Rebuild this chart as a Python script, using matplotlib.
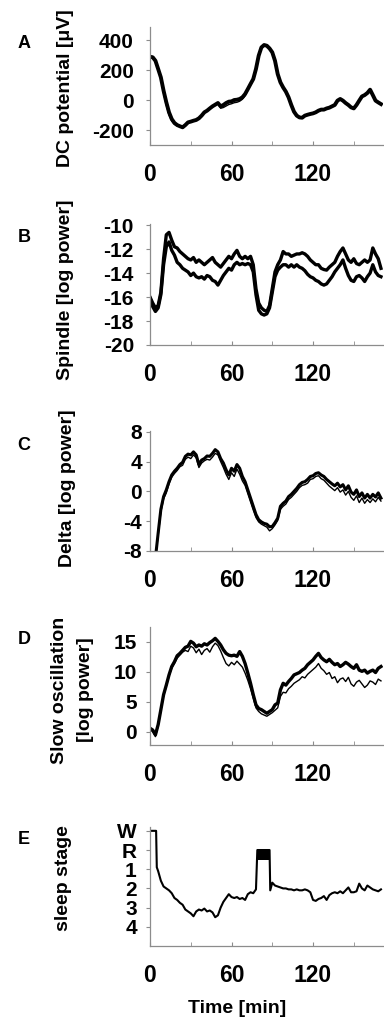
import matplotlib
matplotlib.use("Agg")
import matplotlib.pyplot as plt

plt.rcParams['font.family'] = ['Liberation Sans', 'DejaVu Sans']
plt.rcParams['font.weight'] = 'bold'
plt.rcParams['axes.unicode_minus'] = False

W, H = 384, 1021

# ---- data (time in minutes) ----
minutes = list(range(0, 171, 2))

dc_thick = [289, 285, 262, 207, 151, 62, -15, -82, -127, -153,
            -167, -175, -182, -167, -149, -144, -138, -133, -122, -104,
            -82, -71, -56, -42, -31, -20, -42, -33, -20, -11,
            -9, 0, 2, 7, 18, 40, 73, 107, 140, 207,
            296, 351, 367, 362, 344, 318, 262, 173, 118, 84,
            56, 18, -33, -78, -104, -116, -118, -104, -98, -93,
            -89, -82, -71, -64, -64, -56, -51, -42, -33, -4,
            7, -4, -20, -33, -49, -56, -33, -4, 24, 33,
            47, 69, 33, -4, -16, -27]
dc_thin = [289, 283, 258, 200, 140, 45, -35, -100, -140, -162,
           -172, -178, -184, -170, -152, -146, -141, -135, -126, -108,
           -86, -75, -60, -46, -35, -25, -55, -50, -40, -30,
           -25, -18, -15, -8, 5, 28, 65, 102, 136, 203,
           292, 348, 365, 360, 340, 313, 256, 168, 113, 80,
           52, 14, -38, -82, -108, -119, -121, -107, -101, -96,
           -92, -85, -74, -67, -67, -59, -54, -45, -36, -8,
           4, -7, -23, -36, -52, -59, -36, -7, 21, 30,
           44, 66, 30, -7, -19, -30]

spindle_upper = [-16.0, -16.5, -16.9, -16.7, -15.6, -12.8, -10.8, -10.6, -11.25, -11.8,
                 -11.9, -12.2, -12.4, -12.6, -12.8, -12.9, -12.7, -13.1, -12.9, -13.1,
                 -13.3, -13.1, -12.9, -12.7, -13.1, -13.3, -13.5, -13.2, -12.9, -12.6,
                 -12.8, -12.4, -12.1, -12.6, -12.8, -12.6, -12.8, -12.6, -13.3, -15.3,
                 -16.5, -16.9, -17.1, -17.2, -16.7, -15.3, -13.9, -13.3, -12.9, -12.2,
                 -12.4, -12.4, -12.6, -12.5, -12.4, -12.4, -12.3, -12.4, -12.6, -12.9,
                 -13.1, -13.3, -13.3, -13.6, -13.7, -13.75, -13.5, -13.3, -13.1, -12.6,
                 -12.2, -11.9, -12.4, -12.9, -13.1, -12.8, -13.2, -13.3, -13.1, -12.9,
                 -13.1, -12.9, -11.9, -12.4, -12.8, -13.6]
spindle_lower = [-16.1, -16.8, -17.2, -16.9, -15.8, -13.3, -11.8, -11.4, -12.1, -12.5,
                 -13.1, -13.3, -13.6, -13.75, -13.9, -14.2, -14.0, -14.3, -14.4, -14.3,
                 -14.5, -14.2, -14.3, -14.6, -14.7, -15.0, -14.6, -14.2, -13.9, -13.6,
                 -13.75, -13.3, -13.1, -13.3, -13.2, -13.3, -13.2, -13.3, -13.9, -15.8,
                 -17.1, -17.4, -17.5, -17.4, -16.9, -15.6, -14.3, -13.75, -13.5, -13.3,
                 -13.3, -13.5, -13.3, -13.5, -13.3, -13.5, -13.6, -13.8, -14.1, -14.3,
                 -14.4, -14.6, -14.7, -14.9, -15.0, -14.9, -14.6, -14.3, -13.9, -13.6,
                 -13.3, -12.9, -13.6, -14.2, -14.6, -14.7, -14.3, -14.2, -14.4, -14.7,
                 -14.3, -14.0, -13.3, -13.9, -14.2, -14.3]

delta_minutes = [4.5] + list(range(6, 171, 2))
delta_thick = [-8.1,
               -5.6, -2.4, -0.7, 0.2, 1.3, 2.2, 2.7, 3.1, 3.6, 3.9,
               4.7, 5.0, 4.9, 5.3, 4.9, 3.6, 4.2, 4.4, 4.75, 4.7,
               5.1, 5.6, 5.3, 4.4, 3.8, 2.9, 2.2, 3.1, 2.7, 3.6,
               3.1, 2.0, 1.3, 0.2, -0.9, -2.0, -3.1, -3.8, -4.1, -4.3,
               -4.4, -4.75, -4.7, -4.2, -3.6, -2.0, -1.6, -1.3, -0.7, -0.4,
               0.0, 0.4, 0.9, 1.2, 1.3, 1.6, 2.0, 2.1, 2.4, 2.5,
               2.2, 2.0, 1.6, 1.3, 1.0, 0.75, 1.1, 0.6, 0.9, 0.2,
               0.75, -0.1, -0.4, 0.2, -0.7, -0.2, -0.9, -0.4, -0.9, -0.4,
               -0.75, -0.2, -0.9]
delta_thin = [-8.1,
              -5.9, -2.8, -1.0, -0.2, 1.0, 1.9, 2.4, 2.8, 3.3, 3.5,
              4.3, 4.6, 4.4, 4.9, 4.5, 3.2, 3.8, 4.1, 4.3, 4.2,
              4.6, 5.1, 4.9, 4.0, 3.2, 2.3, 1.6, 2.5, 2.0, 3.0,
              2.3, 1.4, 0.8, -0.3, -1.4, -2.5, -3.5, -4.1, -4.4, -4.6,
              -4.8, -5.3, -5.0, -4.5, -3.9, -2.4, -2.0, -1.7, -1.1, -0.8,
              -0.4, 0.0, 0.5, 0.8, 0.9, 1.1, 1.6, 1.7, 2.0, 2.1,
              1.7, 1.5, 1.1, 0.7, 0.4, 0.1, 0.5, -0.1, 0.2, -0.5,
              0.0, -0.8, -1.2, -0.6, -1.5, -0.9, -1.6, -1.1, -1.5, -1.0,
              -1.4, -0.8, -1.3]

slow_thick = [0.6, 0.3, -0.5, 1.2, 3.7, 6.2, 7.8, 9.5, 10.9, 11.7,
              12.7, 13.1, 13.6, 14.1, 14.3, 15.1, 14.8, 14.2, 14.5, 14.3,
              14.7, 14.5, 14.9, 15.2, 15.6, 15.1, 14.5, 13.7, 13.1, 12.8,
              12.7, 12.8, 12.6, 13.4, 12.6, 11.4, 9.8, 8.1, 6.2, 4.5,
              3.9, 3.7, 3.4, 3.1, 3.4, 3.7, 4.5, 4.8, 7.0, 8.1,
              7.8, 8.4, 8.9, 9.5, 9.7, 9.9, 10.3, 10.6, 11.2, 11.6,
              12.0, 12.6, 13.1, 12.4, 12.0, 11.7, 12.1, 11.6, 11.2, 11.4,
              10.9, 11.2, 11.6, 11.3, 10.9, 10.6, 11.2, 10.3, 10.1, 10.3,
              9.8, 10.1, 10.3, 9.9, 10.6, 10.9]
slow_thin = [0.4, 0.0, -0.8, 1.0, 3.5, 6.0, 7.6, 9.3, 10.6, 11.4,
             12.3, 12.8, 13.3, 13.6, 13.4, 14.3, 14.0, 13.2, 13.8, 12.9,
             13.6, 13.9, 13.3, 14.2, 14.8, 14.4, 13.5, 12.4, 11.4, 11.0,
             11.6, 11.2, 11.8, 11.3, 10.8, 9.8, 8.6, 7.2, 5.6, 4.0,
             3.4, 3.0, 2.8, 2.6, 2.9, 3.2, 3.6, 4.0, 5.9, 6.6,
             6.5, 7.2, 7.6, 8.1, 8.4, 8.7, 9.2, 9.0, 9.6, 10.0,
             10.4, 10.8, 11.4, 10.6, 10.2, 9.6, 9.9, 8.9, 9.2, 8.2,
             8.8, 9.0, 8.4, 9.1, 8.0, 7.6, 8.3, 8.6, 8.0, 7.4,
             7.8, 8.5, 8.3, 7.9, 8.8, 8.5]

# sleep stage: 0=W, 1=R, 2..5 = stages 1..4
stage_labels = ['W', 'R', '1', '2', '3', '4']
stage_minutes = [0, 4.5, 5] + list(range(6, 79, 2)) + [79, 88, 88.5] + list(range(90, 171, 2))
stage_values = ([0, 0, 1.9] +
                [2.1, 2.6, 2.9, 3.0, 3.1, 3.25, 3.5, 3.6, 3.75, 3.85,
                 4.1, 4.2, 4.3, 4.45, 4.2, 4.1, 4.15, 4.05, 4.2, 4.15,
                 4.25, 4.5, 4.4, 4.0, 3.7, 3.5, 3.3, 3.45, 3.5, 3.45,
                 3.55, 3.5, 3.6, 3.3, 3.2, 3.25, 3.05] +
                [1.0, 1.0, 3.1] +
                [2.7, 2.85, 2.9, 2.95, 3.0, 3.0, 3.05, 3.05, 3.1, 3.05,
                 3.1, 3.1, 3.05, 3.1, 3.2, 3.6, 3.65, 3.55, 3.5, 3.4,
                 3.6, 3.35, 3.25, 3.2, 3.25, 3.15, 3.25, 3.1, 2.95, 3.2,
                 3.2, 3.15, 2.75, 3.0, 3.1, 2.85, 2.95, 3.05, 3.1, 3.15,
                 3.05])
rem_span = [79, 88]
rem_band = [1.0, 1.5]

SPINE = '#8c8c8c'


def make_axes(fig, top_px, bottom_px, ypad):
    left = 150 / W
    width = 233 / W
    ax = fig.add_axes([left, 1 - bottom_px / H, width, (bottom_px - top_px) / H])
    for s in ('top', 'right'):
        ax.spines[s].set_visible(False)
    for s in ('left', 'bottom'):
        ax.spines[s].set_color(SPINE)
        ax.spines[s].set_linewidth(0.9)
    ax.set_xlim(0, 171.5)
    ax.set_xticks([0, 60, 120])
    ax.set_xticks([30, 90, 150], minor=True)
    ax.xaxis.set_tick_params(which='both', direction='in', length=3, color=SPINE,
                             labelsize=16.5, pad=13)
    ax.yaxis.set_tick_params(which='major', direction='out', length=3, color=SPINE,
                             labelsize=15, pad=ypad)
    return ax


fig = plt.figure(figsize=(W / 100, H / 100), dpi=100)

# A
ax = make_axes(fig, 27, 145, 8.6)
ax.plot(minutes, dc_thin, color='black', lw=1.0)
ax.plot(minutes, dc_thick, color='black', lw=2.8)
ax.set_ylim(-300, 487)
ax.set_yticks([-200, 0, 200, 400])

# B
ax = make_axes(fig, 224, 345, 8.6)
ax.plot(minutes, spindle_upper, color='black', lw=2.4)
ax.plot(minutes, spindle_lower, color='black', lw=2.4)
ax.set_ylim(-20, -9.9)
ax.set_yticks([-20, -18, -16, -14, -12, -10])

# C
ax = make_axes(fig, 431, 551, 2.9)
ax.plot(delta_minutes, delta_thin, color='black', lw=1.0)
ax.plot(delta_minutes, delta_thick, color='black', lw=2.2)
ax.set_ylim(-8, 8.1)
ax.set_yticks([-8, -4, 0, 4, 8])

# D
ax = make_axes(fig, 627, 745, 6.5)
ax.plot(minutes, slow_thin, color='black', lw=1.0)
ax.plot(minutes, slow_thick, color='black', lw=2.4)
ax.set_ylim(-2.2, 17.5)
ax.set_yticks([0, 5, 10, 15])

# E
ax = make_axes(fig, 827, 946, 6.5)
ax.plot(stage_minutes, stage_values, color='black', lw=1.5)
ax.fill_between(rem_span, rem_band[0], rem_band[1], color='black', lw=0)
ax.set_ylim(6.0, -0.2)
ax.set_yticks(range(len(stage_labels)))
ax.set_yticklabels(stage_labels)


def ftext(x, y, s, **kw):
    fig.text(x / W, 1 - y / H, s, ha='center', va='center', fontweight='bold', **kw)


for letter, y in zip('ABCDE', [43, 237, 445, 639, 840]):
    ftext(24, y, letter, fontsize=13)

ftext(66, 88, 'DC potential [\u03bcV]', fontsize=14, rotation=90)
ftext(66, 290, 'Spindle [log power]', fontsize=14, rotation=90)
ftext(67, 488, 'Delta [log power]', fontsize=14, rotation=90)
ftext(60, 690, 'Slow oscillation', fontsize=14, rotation=90)
ftext(85, 690, '[log power]', fontsize=14, rotation=90)
ftext(64, 878, 'sleep stage', fontsize=14, rotation=90)
ftext(237, 1008, 'Time [min]', fontsize=14)

fig.savefig('out.png', dpi=100)
